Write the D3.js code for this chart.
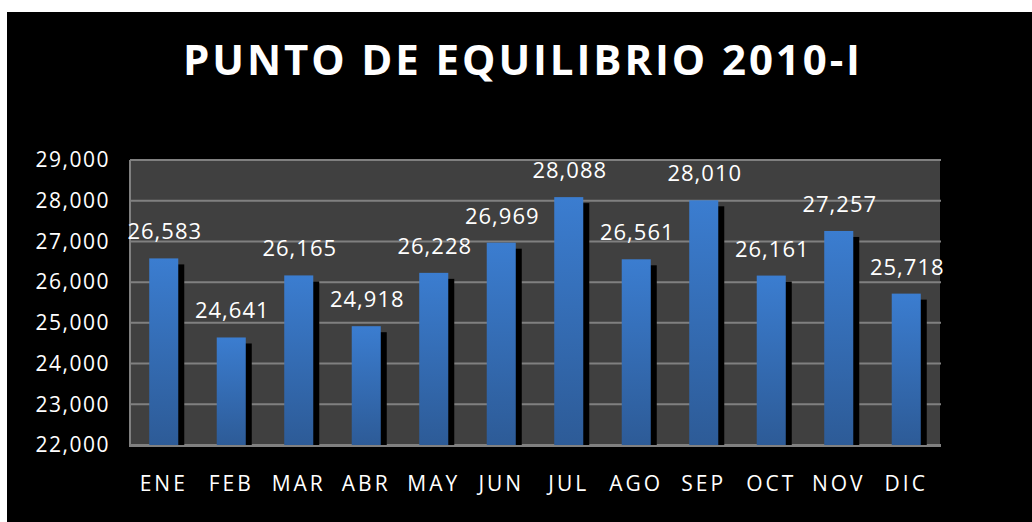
<!DOCTYPE html>
<html>
<head>
<meta charset="utf-8">
<script src="https://cdn.jsdelivr.net/npm/d3@7"></script>
<style>
  body { margin: 0; background: #fff; }
  svg { display: block; font-family: "Open Sans", sans-serif; }
</style>
</head>
<body>
<svg></svg>
<script>
// data
const months = ['ENE', 'FEB', 'MAR', 'ABR', 'MAY', 'JUN', 'JUL', 'AGO', 'SEP', 'OCT', 'NOV', 'DIC']
const values = [26583, 24641, 26165, 24918, 26228, 26969, 28088, 26561, 28010, 26161, 27257, 25718]
const yTicks = [22000, 23000, 24000, 25000, 26000, 27000, 28000, 29000]
const title = 'PUNTO DE EQUILIBRIO 2010-I'

const
    W = 1032,
    H = 522,
    PLOT_LEFT = 130,
    PLOT_RIGHT = 940,
    PLOT_TOP = 160,
    PLOT_BOTTOM = 445

let svg = d3.select('svg')
    .attr('width', W)
    .attr('height', H)

// gradient for the bars
let grad = svg.append('defs').append('linearGradient')
    .attr('id', 'barGrad')
    .attr('x1', 0).attr('y1', 0).attr('x2', 0).attr('y2', 1)
grad.append('stop').attr('offset', '0%').attr('stop-color', '#3b7dd0')
grad.append('stop').attr('offset', '100%').attr('stop-color', '#2d5b97')

// black chart background
svg.append('rect')
    .attr('x', 7).attr('y', 12)
    .attr('width', W - 7).attr('height', H - 12)
    .attr('fill', '#000')

svg.append('text')
    .attr('x', 183)
    .attr('y', 75)
    .attr('textLength', 677)
    .attr('lengthAdjust', 'spacing')
    .attr('fill', '#fff')
    .style('font-size', '42px')
    .style('font-weight', 'bold')
    .text(title)

let x = d3.scaleBand()
    .domain(months)
    .range([PLOT_LEFT, PLOT_RIGHT])

let y = d3.scaleLinear()
    .domain([22000, 29000])
    .range([PLOT_BOTTOM, PLOT_TOP])

const barW = x.bandwidth() * 0.43

// plot area
svg.append('rect')
    .attr('x', PLOT_LEFT).attr('y', PLOT_TOP)
    .attr('width', PLOT_RIGHT - PLOT_LEFT).attr('height', PLOT_BOTTOM - PLOT_TOP)
    .attr('fill', '#404040')

// gridlines
svg.append('g')
    .selectAll('line')
    .data(yTicks)
    .enter()
    .append('line')
        .attr('x1', PLOT_LEFT).attr('x2', PLOT_RIGHT + 1)
        .attr('y1', d => y(d)).attr('y2', d => y(d))
        .attr('stroke', '#808080')
        .attr('stroke-width', 2)

// left and bottom axis lines
svg.append('line')
    .attr('x1', PLOT_LEFT).attr('x2', PLOT_LEFT)
    .attr('y1', PLOT_TOP).attr('y2', PLOT_BOTTOM + 2)
    .attr('stroke', '#808080').attr('stroke-width', 2)
svg.append('line')
    .attr('x1', PLOT_LEFT).attr('x2', PLOT_RIGHT + 1)
    .attr('y1', PLOT_BOTTOM + 1).attr('y2', PLOT_BOTTOM + 1)
    .attr('stroke', '#808080').attr('stroke-width', 2)

// bar shadows
svg.append('g')
    .selectAll('rect')
    .data(values)
    .enter()
    .append('rect')
        .attr('x', (d, i) => x(months[i]) + x.bandwidth() / 2 - barW / 2 + 6)
        .attr('y', d => y(d) + 6)
        .attr('width', barW)
        .attr('height', d => PLOT_BOTTOM - y(d) - 6)
        .attr('fill', '#000')

// bars
svg.append('g')
    .selectAll('rect')
    .data(values)
    .enter()
    .append('rect')
        .attr('x', (d, i) => x(months[i]) + x.bandwidth() / 2 - barW / 2)
        .attr('y', d => y(d))
        .attr('width', barW)
        .attr('height', d => PLOT_BOTTOM - y(d))
        .attr('fill', 'url(#barGrad)')

// value labels
svg.append('g')
    .selectAll('text')
    .data(values)
    .enter()
    .append('text')
        .attr('x', (d, i) => x(months[i]) + x.bandwidth() / 2 + 1)
        .attr('y', d => y(d) - 19)
        .attr('text-anchor', 'middle')
        .attr('fill', '#fff')
        .style('font-size', '22px')
        .style('letter-spacing', '1px')
        .text(d => d3.format(',')(d))

// y axis labels
let yAxis = d3.axisLeft(y)
    .tickValues(yTicks)
    .tickFormat(d3.format(','))
    .tickSize(0)
    .tickPadding(20)

let gy = svg.append('g')
    .attr('transform', `translate(${PLOT_LEFT}, 0)`)
    .call(yAxis)
gy.select('.domain').remove()
gy.selectAll('text')
    .attr('fill', '#fff')
    .style('font-size', '21px')
    .style('letter-spacing', '1.5px')
    .style('font-family', '"Open Sans", sans-serif')

// x axis labels
let xAxis = d3.axisBottom(x).tickSize(0).tickPadding(0)
let gx = svg.append('g')
    .attr('transform', `translate(0, ${PLOT_BOTTOM})`)
    .call(xAxis)
gx.select('.domain').remove()
gx.selectAll('text')
    .attr('dy', null)
    .attr('y', 46)
    .attr('fill', '#fff')
    .style('font-size', '21px')
    .style('letter-spacing', '3px')
    .style('font-family', '"Open Sans", sans-serif')
</script>
</body>
</html>
